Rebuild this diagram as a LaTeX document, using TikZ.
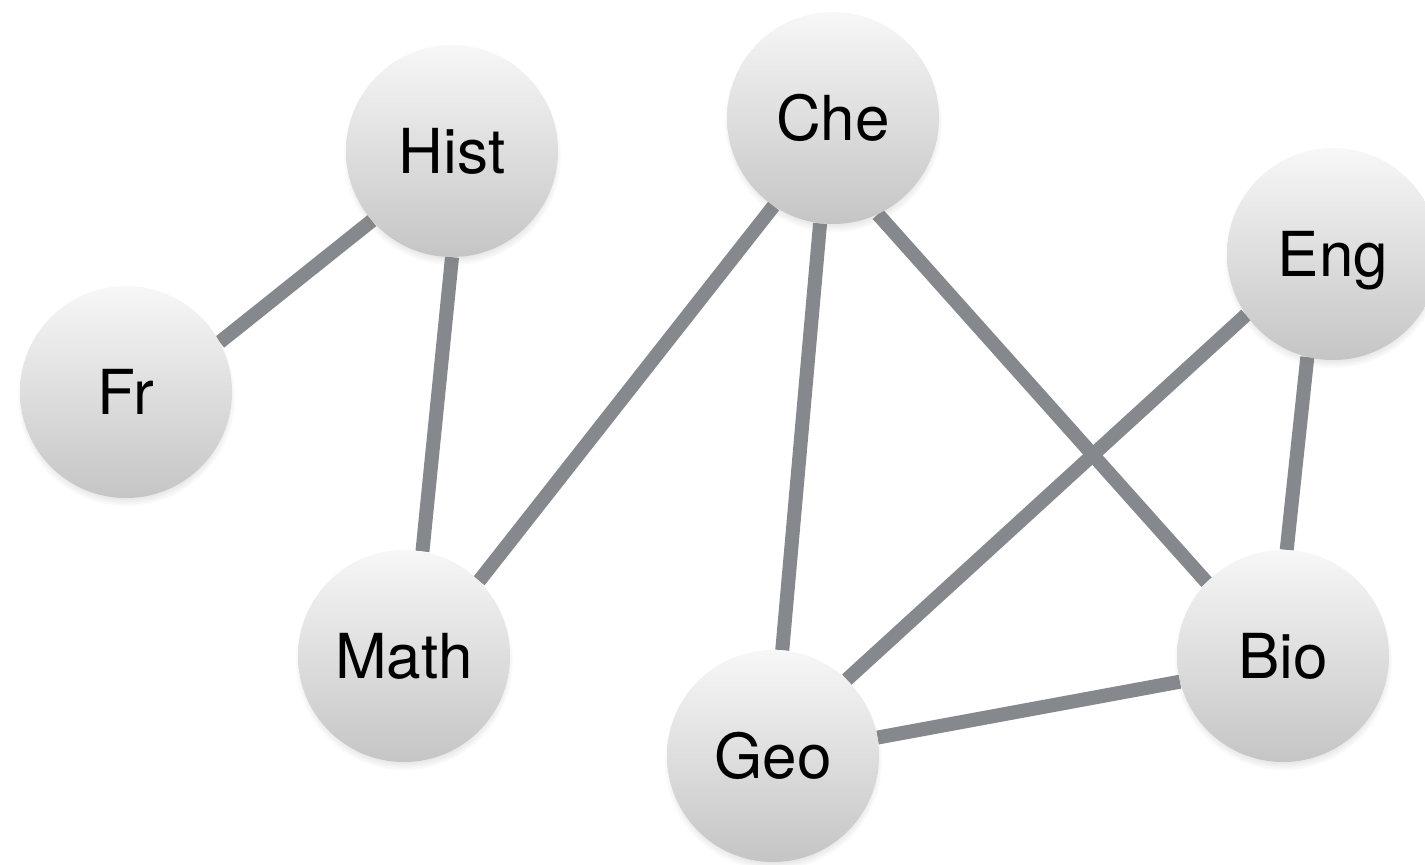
\documentclass[tikz,border=0pt]{standalone}
\usepackage{fontspec}
\setmainfont{TeX Gyre Heros}
\usetikzlibrary{shadows,backgrounds,fadings}
\definecolor{edgegrey}{HTML}{85888C}
\definecolor{balltop}{HTML}{F7F7F7}
\definecolor{ballbottom}{HTML}{C5C5C5}
\tikzset{
  subject/.style={circle, minimum size=212pt, inner sep=0pt,
    top color=balltop, bottom color=ballbottom, draw=none,
    font=\fontsize{62}{70}\selectfont, text height=45pt, text depth=0pt,
    circular drop shadow={shadow xshift=0pt, shadow yshift=-5pt,
      shadow scale=1.03, opacity=0.35}},
  link/.style={draw=edgegrey, line width=14pt}
}
\begin{document}
\begin{tikzpicture}[x=1pt, y=-1pt]
  \useasboundingbox (0,0) rectangle (1425,865);
  % subject nodes
  \node[subject] (hist) at (452,151) {Hist};
  \node[subject] (che)  at (833,118) {Che};
  \node[subject] (eng)  at (1333,254) {Eng};
  \node[subject] (fr)   at (126,392) {Fr};
  \node[subject] (math) at (404,656) {Math};
  \node[subject] (geo)  at (773,756) {Geo};
  \node[subject] (bio)  at (1283,656) {Bio};
  % connections run between points on the rims, behind the circles
  \begin{scope}[on background layer]
    \draw[link] (fr.28)    -- (hist.221);
    \draw[link] (hist.270) -- (math.80);
    \draw[link] (math.45)  -- (che.236);
    \draw[link] (che.263)  -- (geo.85);
    \draw[link] (che.295)  -- (bio.136);
    \draw[link] (geo.46)   -- (eng.215);
    \draw[link] (eng.256)  -- (bio.88);
    \draw[link] (geo.10)   -- (bio.194);
  \end{scope}
\end{tikzpicture}
\end{document}
